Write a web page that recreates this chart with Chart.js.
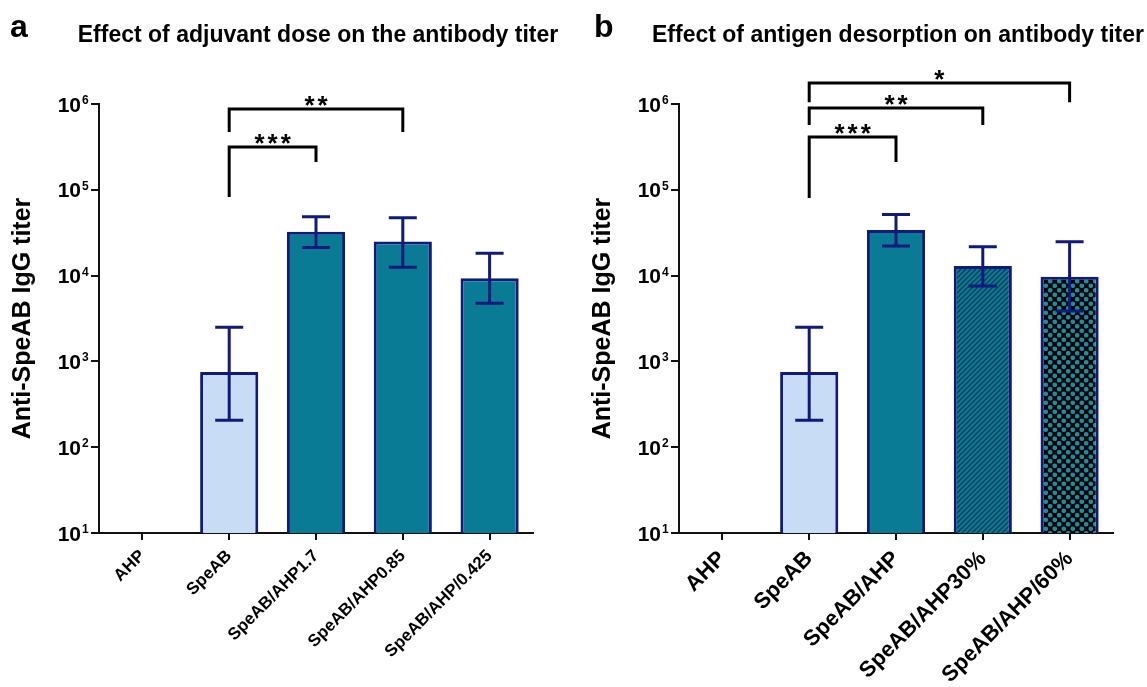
<!DOCTYPE html>
<html>
<head>
<meta charset="utf-8">
<script src="https://cdn.jsdelivr.net/npm/chart.js@4.4.0/dist/chart.umd.min.js"></script>
<style>
  html, body { margin: 0; padding: 0; background: #fff; }
  #wrap { position: relative; width: 1147px; height: 687px; overflow: hidden; }
  canvas { position: absolute; top: 0; }
  #panelA { left: 0; }
  #panelB { left: 580px; }
</style>
</head>
<body>
<div id="wrap">
  <canvas id="panelA" width="580" height="687"></canvas>
  <canvas id="panelB" width="567" height="687"></canvas>
</div>
<script>
// panel a: adjuvant dose
const labelsA = ['AHP', 'SpeAB', 'SpeAB/AHP1.7', 'SpeAB/AHP0.85', 'SpeAB/AHP/0.425'];
const titerA = [null, 750, 32500, 25000, 9300];
const errLowA = [null, 206, 21200, 12500, 4760];
const errHighA = [null, 2500, 48500, 47200, 18200];

// significance brackets, panel a
const sigFromA = [1, 1];
const sigToA = [3, 2];
const sigTopA = [875000, 315000];
const sigLeftEndA = [472000, 82400];
const sigRightEndA = [472000, 211000];
const sigTextA = ['**', '***'];

// panel b: antigen desorption
const labelsB = ['AHP', 'SpeAB', 'SpeAB/AHP', 'SpeAB/AHP30%', 'SpeAB/AHP/60%'];
const titerB = [null, 750, 34000, 12900, 9700];
const errLowB = [null, 206, 22100, 7580, 3870];
const errHighB = [null, 2500, 51600, 21700, 24800];

const sigFromB = [1, 1, 1];
const sigToB = [4, 3, 2];
const sigTopB = [1760000, 898000, 412000];
const sigLeftEndB = [1050000, 569000, 80200];
const sigRightEndB = [1050000, 569000, 211000];
const sigTextB = ['*', '**', '***'];

const yTickValues = [10, 100, 1000, 10000, 100000, 1000000];

const NAVY = '#111a7c';
const LIGHT = '#c8dcf5';
const TEAL = '#0a7b94';
const AXIS = '#111';
const FONT = "'Liberation Sans', Arial, sans-serif";

Chart.defaults.font.family = FONT;
Chart.defaults.color = '#000';

function makeStripes() {
    const s = 5;
    const c = document.createElement('canvas');
    c.width = s; c.height = s;
    const g = c.getContext('2d');
    g.fillStyle = TEAL;
    g.fillRect(0, 0, s, s);
    g.strokeStyle = '#0c3b55';
    g.lineWidth = 1.3;
    g.beginPath();
    g.moveTo(-1, s + 1); g.lineTo(s + 1, -1);
    g.moveTo(-1, 1); g.lineTo(1, -1);
    g.moveTo(s - 1, s + 1); g.lineTo(s + 1, s - 1);
    g.stroke();
    return g.createPattern(c, 'repeat');
}

function makeDots() {
    const s = 9;
    const c = document.createElement('canvas');
    c.width = s; c.height = s;
    const g = c.getContext('2d');
    g.fillStyle = '#050505';
    g.fillRect(0, 0, s, s);
    g.fillStyle = '#1b8ea4';
    [[2.25, 2.25], [6.75, 6.75]].forEach(p => {
        g.beginPath();
        g.arc(p[0], p[1], 2.3, 0, Math.PI * 2);
        g.fill();
    });
    return g.createPattern(c, 'repeat');
}

function makeDecor(cfg) {
    return {
        id: 'decor' + cfg.letter,
        afterDatasetsDraw(chart) {
            const ctx = chart.ctx;
            const y = chart.scales.y;
            const meta = chart.getDatasetMeta(0);
            ctx.save();
            ctx.strokeStyle = NAVY;
            ctx.lineWidth = 3;
            cfg.low.forEach((lo, i) => {
                if (lo == null) return;
                const cx = meta.data[i].x;
                const y1 = y.getPixelForValue(lo);
                const y2 = y.getPixelForValue(cfg.high[i]);
                ctx.beginPath();
                ctx.moveTo(cx, y1); ctx.lineTo(cx, y2);
                ctx.moveTo(cx - 14, y1); ctx.lineTo(cx + 14, y1);
                ctx.moveTo(cx - 14, y2); ctx.lineTo(cx + 14, y2);
                ctx.stroke();
            });
            ctx.restore();
        },
        afterDraw(chart) {
            const ctx = chart.ctx;
            const x = chart.scales.x;
            const y = chart.scales.y;
            const area = chart.chartArea;
            ctx.save();

            // y tick labels as 10^n
            ctx.fillStyle = '#000';
            y.ticks.forEach(t => {
                const py = y.getPixelForValue(t.value);
                const exp = Math.round(Math.log10(t.value));
                ctx.font = 'bold 21px ' + FONT;
                ctx.textAlign = 'right';
                ctx.textBaseline = 'alphabetic';
                ctx.fillText('10', area.left - 18, py + 7.5);
                ctx.font = 'bold 12px ' + FONT;
                ctx.textAlign = 'left';
                ctx.fillText(String(exp), area.left - 17, py);
            });

            // significance brackets
            ctx.strokeStyle = '#000';
            ctx.lineWidth = 3;
            ctx.lineJoin = 'miter';
            cfg.sigFrom.forEach((from, i) => {
                const xl = x.getPixelForValue(from);
                const xr = x.getPixelForValue(cfg.sigTo[i]);
                const yt = y.getPixelForValue(cfg.sigTop[i]);
                ctx.beginPath();
                ctx.moveTo(xl, y.getPixelForValue(cfg.sigLeftEnd[i]));
                ctx.lineTo(xl, yt);
                ctx.lineTo(xr, yt);
                ctx.lineTo(xr, y.getPixelForValue(cfg.sigRightEnd[i]));
                ctx.stroke();
                ctx.font = 'bold 26px ' + FONT;
                ctx.textAlign = 'center';
                ctx.textBaseline = 'alphabetic';
                ctx.letterSpacing = '3px';
                ctx.fillText(cfg.sigText[i], (xl + xr) / 2 + 1.5, yt + 5);
                ctx.letterSpacing = '0px';
            });

            // panel title and letter
            ctx.font = 'bold 23px ' + FONT;
            ctx.textAlign = 'center';
            ctx.textBaseline = 'alphabetic';
            ctx.fillText(cfg.title, (area.left + area.right) / 2 + 2, 42);
            ctx.font = 'bold 32px ' + FONT;
            ctx.textAlign = 'left';
            ctx.fillText(cfg.letter, cfg.letterX, 37);
            ctx.restore();
        }
    };
}

function makePanel(id, cfg) {
    return new Chart(document.getElementById(id), {
        type: 'bar',
        data: {
            labels: cfg.labels,
            datasets: [{
                data: cfg.values,
                backgroundColor: cfg.colors,
                borderColor: NAVY,
                borderWidth: 3,
                categoryPercentage: 1,
                barPercentage: 0.67
            }]
        },
        options: {
            responsive: false,
            animation: false,
            layout: { padding: { left: 0, right: cfg.rightPad, top: 104, bottom: 0 } },
            plugins: {
                legend: { display: false },
                tooltip: { enabled: false },
                title: { display: false }
            },
            scales: {
                x: {
                    offset: true,
                    z: 1,
                    afterFit: s => { s.height = 154; },
                    grid: { offset: false, drawOnChartArea: false, drawTicks: true, tickLength: 7, color: AXIS, lineWidth: 2 },
                    border: { color: AXIS, width: 2 },
                    ticks: {
                        autoSkip: false,
                        minRotation: 45,
                        maxRotation: 45,
                        padding: 6,
                        color: '#000',
                        font: { size: cfg.tickSize, weight: 'bold' }
                    }
                },
                y: {
                    type: 'logarithmic',
                    min: 10,
                    max: 1000000,
                    afterBuildTicks: s => { s.ticks = yTickValues.map(v => ({ value: v })); },
                    afterFit: s => { s.width = 99; },
                    ticks: { display: false },
                    grid: { drawOnChartArea: false, drawTicks: true, tickLength: 8, color: AXIS, lineWidth: 2 },
                    border: { color: AXIS, width: 2 },
                    title: {
                        display: true,
                        text: 'Anti-SpeAB IgG titer',
                        color: '#000',
                        font: { size: 25, weight: 'bold' },
                        padding: { top: 8, bottom: 0 }
                    }
                }
            }
        },
        plugins: [makeDecor(cfg)]
    });
}

makePanel('panelA', {
    labels: labelsA,
    values: titerA,
    colors: [LIGHT, LIGHT, TEAL, TEAL, TEAL],
    low: errLowA,
    high: errHighA,
    sigFrom: sigFromA, sigTo: sigToA, sigTop: sigTopA,
    sigLeftEnd: sigLeftEndA, sigRightEnd: sigRightEndA, sigText: sigTextA,
    title: 'Effect of adjuvant dose on the antibody titer',
    letter: 'a', letterX: 10,
    tickSize: 17,
    rightPad: 47
});

makePanel('panelB', {
    labels: labelsB,
    values: titerB,
    colors: [LIGHT, LIGHT, TEAL, makeStripes(), makeDots()],
    low: errLowB,
    high: errHighB,
    sigFrom: sigFromB, sigTo: sigToB, sigTop: sigTopB,
    sigLeftEnd: sigLeftEndB, sigRightEnd: sigRightEndB, sigText: sigTextB,
    title: 'Effect of antigen desorption on antibody titer',
    letter: 'b', letterX: 14,
    tickSize: 22,
    rightPad: 34
});
</script>
</body>
</html>
